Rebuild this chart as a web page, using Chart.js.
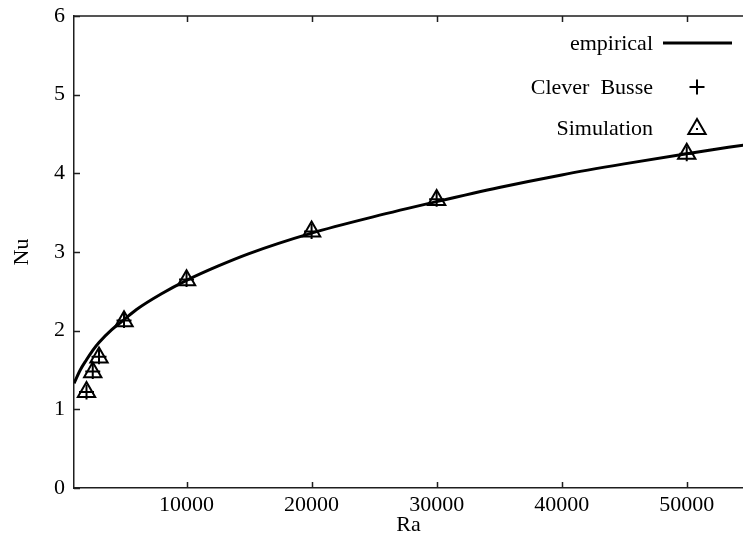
<!DOCTYPE html>
<html>
<head>
<meta charset="utf-8">
<script src="https://cdn.jsdelivr.net/npm/chart.js@4.4.1/dist/chart.umd.min.js"></script>
<style>
  html, body { margin: 0; padding: 0; background: #fff; }
  canvas { display: block; }
</style>
</head>
<body>
<canvas id="nuChart" width="743" height="536"></canvas>
<script>
// Nusselt number vs Rayleigh number
const raPoints = [2000, 2500, 3000, 5000, 10000, 20000, 30000, 50000];
const nuCleverBusse = [1.22, 1.48, 1.67, 2.13, 2.65, 3.26, 3.67, 4.25];
const nuSimulation = [1.22, 1.47, 1.66, 2.12, 2.64, 3.26, 3.66, 4.25];

const raEmpirical = [1000, 1500, 2000, 2500, 3000, 4000, 5000, 6000, 8000, 10000,
  12500, 15000, 20000, 25000, 30000, 35000, 40000, 45000, 50000, 55000];
const nuEmpirical = [1.33, 1.50, 1.63, 1.75, 1.85, 2.01, 2.14, 2.27, 2.47, 2.64,
  2.82, 2.98, 3.24, 3.45, 3.64, 3.82, 3.98, 4.12, 4.25, 4.37];

const raTicks = [10000, 20000, 30000, 40000, 50000];
const nuTicks = [0, 1, 2, 3, 4, 5, 6];

const FONT = "'Liberation Serif', 'Times New Roman', serif";
const INK = '#000000';
const AXIS = '#1e1e1e';

const toXY = (xs, ys) => xs.map((x, i) => ({ x: x, y: ys[i] }));

// gnuplot-like frame: top border and inward tick marks
const frame = {
  id: 'frame',
  afterDraw(chart) {
    const { ctx, chartArea: a, scales: { x, y } } = chart;
    ctx.save();
    ctx.strokeStyle = AXIS;
    ctx.lineWidth = 1.5;
    ctx.beginPath();
    ctx.moveTo(a.left, a.top);
    ctx.lineTo(a.right, a.top);
    raTicks.forEach(v => {
      const px = Math.round(x.getPixelForValue(v)) + 0.5;
      ctx.moveTo(px, a.bottom);
      ctx.lineTo(px, a.bottom - 6);
      ctx.moveTo(px, a.top);
      ctx.lineTo(px, a.top + 6);
    });
    nuTicks.forEach(v => {
      const py = Math.round(y.getPixelForValue(v)) + 0.5;
      ctx.moveTo(a.left, py);
      ctx.lineTo(a.left + 6, py);
    });
    ctx.stroke();
    ctx.restore();
  }
};

function drawPlus(ctx, cx, cy, r) {
  ctx.beginPath();
  ctx.moveTo(cx - r, cy); ctx.lineTo(cx + r, cy);
  ctx.moveTo(cx, cy - r); ctx.lineTo(cx, cy + r);
  ctx.stroke();
}

function drawTriangle(ctx, cx, cy, r) {
  ctx.beginPath();
  ctx.moveTo(cx, cy - r);
  ctx.lineTo(cx + r * 0.866, cy + r / 2);
  ctx.lineTo(cx - r * 0.866, cy + r / 2);
  ctx.closePath();
  ctx.stroke();
  ctx.fillRect(cx - 1, cy - 1, 2, 2);
}

// key in the upper right: title right-aligned, sample to its right
const key = {
  id: 'key',
  afterDraw(chart) {
    const { ctx } = chart;
    const textRight = 653;
    const sampleX = 697;
    const rows = [43, 87, 128];
    ctx.save();
    ctx.font = '22px ' + FONT;
    ctx.fillStyle = INK;
    ctx.strokeStyle = INK;
    ctx.textAlign = 'right';
    ctx.textBaseline = 'middle';
    chart.data.datasets.forEach((ds, i) => {
      const yy = rows[i];
      ctx.fillText(ds.label, textRight, yy + 1);
      if (ds.showLine) {
        ctx.lineWidth = ds.borderWidth;
        ctx.beginPath();
        ctx.moveTo(663, yy);
        ctx.lineTo(732, yy);
        ctx.stroke();
      } else if (ds.pointStyle === 'cross') {
        ctx.lineWidth = ds.pointBorderWidth;
        drawPlus(ctx, sampleX, yy, ds.pointRadius);
      } else {
        ctx.lineWidth = ds.pointBorderWidth;
        drawTriangle(ctx, sampleX, yy + 1, ds.pointRadius);
      }
    });
    ctx.restore();
  }
};

new Chart(document.getElementById('nuChart'), {
  type: 'scatter',
  data: {
    datasets: [{
      label: 'empirical',
      data: toXY(raEmpirical, nuEmpirical),
      showLine: true,
      borderColor: INK,
      backgroundColor: 'transparent',
      borderWidth: 3,
      pointRadius: 0,
      cubicInterpolationMode: 'monotone',
      order: 0
    }, {
      label: 'Clever  Busse',
      data: toXY(raPoints, nuCleverBusse),
      showLine: false,
      pointStyle: 'cross',
      pointRadius: 7.5,
      pointBorderWidth: 2,
      borderColor: INK,
      backgroundColor: INK,
      order: 1
    }, {
      label: 'Simulation',
      data: toXY(raPoints, nuSimulation),
      showLine: false,
      pointStyle: 'triangle',
      pointRadius: 10,
      pointBorderWidth: 2,
      borderColor: INK,
      backgroundColor: 'transparent',
      order: 2
    }]
  },
  options: {
    responsive: false,
    animation: false,
    layout: {
      autoPadding: false,
      padding: { top: 16, right: 0, bottom: 0, left: 0 }
    },
    plugins: {
      legend: { display: false },
      tooltip: { enabled: false }
    },
    scales: {
      x: {
        type: 'linear',
        min: 1000,
        max: 54500,
        afterBuildTicks: s => { s.ticks = raTicks.map(v => ({ value: v })); },
        afterFit: s => {
          s.height = 48;
          s.paddingLeft = 0;
          s.paddingRight = 0;
        },
        ticks: {
          color: INK,
          padding: 4,
          maxRotation: 0,
          autoSkip: false,
          callback: v => String(v),
          font: { family: FONT, size: 22 }
        },
        grid: { drawOnChartArea: false, drawTicks: false },
        border: { color: AXIS, width: 1.5 },
        title: {
          display: true,
          text: 'Ra',
          color: INK,
          padding: { top: 0, bottom: -2 },
          font: { family: FONT, size: 22 }
        }
      },
      y: {
        min: 0,
        max: 6,
        afterBuildTicks: s => { s.ticks = nuTicks.map(v => ({ value: v })); },
        afterFit: s => {
          s.width = 74;
          s.paddingTop = 0;
          s.paddingBottom = 0;
        },
        ticks: {
          color: INK,
          padding: 9,
          callback: v => String(v),
          font: { family: FONT, size: 22 }
        },
        grid: { drawOnChartArea: false, drawTicks: false },
        border: { color: AXIS, width: 1.5 },
        title: {
          display: true,
          text: 'Nu',
          color: INK,
          padding: { top: 9, bottom: 0 },
          font: { family: FONT, size: 22 }
        }
      }
    }
  },
  plugins: [frame, key]
});
</script>
</body>
</html>
